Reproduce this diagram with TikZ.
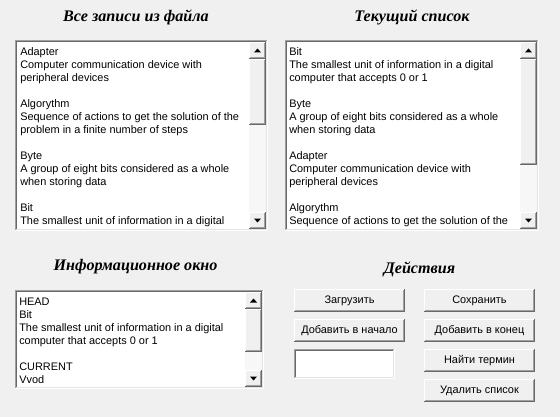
\documentclass[tikz,border=0pt]{standalone}
\usepackage{fontspec}
\setmainfont{Liberation Sans}
\newfontfamily\ttlfont{Liberation Serif}
\definecolor{bg}{HTML}{F0F0F0}
\definecolor{dkgray}{HTML}{696969}
\definecolor{mdgray}{HTML}{A0A0A0}
\definecolor{ltgray}{HTML}{E3E3E3}
\definecolor{trough}{HTML}{F7F7F7}
\newcommand\uisize{\fontsize{8.2}{10}\selectfont}
\newcommand\ttlsize{\fontsize{12.1}{14}\selectfont}
\tikzset{
  uitext/.style={anchor=mid west, inner sep=0pt, font=\uisize, text=black},
  wintitle/.style={inner sep=0pt, font=\ttlfont\bfseries\itshape\ttlsize},
  btntext/.style={inner sep=0pt, font=\uisize},
  px/.style={line width=0.75pt},
}
% raised (button-like) rectangle
\newcommand\raisedrect[4]{%
  \fill[bg] (#1,#2) rectangle (#3,#4);
  \draw[px,white] (#1+0.5,#4-1) |- (#3-1,#2+0.5);
  \draw[px,dkgray] (#1,#4-0.5) -| (#3-0.5,#2);
  \draw[px,mdgray] (#1+1,#4-1.5) -| (#3-1.5,#2+1);
}
% sunken (edit-like) rectangle
\newcommand\sunkenrect[4]{%
  \fill[white] (#1,#2) rectangle (#3,#4);
  \draw[px,mdgray] (#1+0.5,#4-1) |- (#3-1,#2+0.5);
  \draw[px,dkgray] (#1+1.5,#4-2) |- (#3-2,#2+1.5);
  \draw[px,white] (#1,#4-0.5) -| (#3-0.5,#2);
  \draw[px,ltgray] (#1+1,#4-1.5) -| (#3-1.5,#2+1);
}
% vertical scrollbar: x1 y1 x2 y2 thumbbottom
\newcommand\vscroll[5]{%
  \fill[trough] (#1,#2) rectangle (#3,#4);
  \raisedrect{#1}{#2}{#3}{#2+17}
  \raisedrect{#1}{#2+17}{#3}{#5}
  \raisedrect{#1}{#4-17}{#3}{#4}
  \fill[black] ({(#1+#3)/2-3.5},#2+10.5) -- ({(#1+#3)/2+3.5},#2+10.5) -- ({(#1+#3)/2},#2+6.5) -- cycle;
  \fill[black] ({(#1+#3)/2-3.5},#4-10.5) -- ({(#1+#3)/2+3.5},#4-10.5) -- ({(#1+#3)/2},#4-6.5) -- cycle;
}
\begin{document}
\begin{tikzpicture}[x=0.75pt,y=-0.75pt]
\fill[bg] (0,0) rectangle (560,417);
\useasboundingbox (0,0) rectangle (560,417);

% titles
\node[wintitle] (t1) at (136,17) {Все записи из файла};
\node[wintitle] (t2) at (412,17) {Текущий список};
\node[wintitle] (t3) at (135.5,267) {Информационное окно};
\node[wintitle] (t4) at (419.5,269) {Действия};

% list box 1
\sunkenrect{15}{40}{268}{231}
\vscroll{249}{42}{266}{229}{125}
\node[uitext] (a1) at (20,52) {Adapter};
\node[uitext] (a2) at (20,65) {Computer communication device with};
\node[uitext] (a3) at (20,78) {peripheral devices};
\node[uitext] (a4) at (20,104) {Algorythm};
\node[uitext] (a5) at (20,117) {Sequence of actions to get the solution of the};
\node[uitext] (a6) at (20,130) {problem in a finite number of steps};
\node[uitext] (a7) at (20,156) {Byte};
\node[uitext] (a8) at (20,169) {A group of eight bits considered as a whole};
\node[uitext] (a9) at (20,182) {when storing data};
\node[uitext] (a10) at (20,208) {Bit};
\node[uitext] (a11) at (20,221) {The smallest unit of information in a digital};

% list box 2
\sunkenrect{285}{40}{539}{231}
\vscroll{520}{42}{537}{229}{165}
\node[uitext] (b1) at (289,52) {Bit};
\node[uitext] (b2) at (289,65) {The smallest unit of information in a digital};
\node[uitext] (b3) at (289,78) {computer that accepts 0 or 1};
\node[uitext] (b4) at (289,104) {Byte};
\node[uitext] (b5) at (289,117) {A group of eight bits considered as a whole};
\node[uitext] (b6) at (289,130) {when storing data};
\node[uitext] (b7) at (289,156) {Adapter};
\node[uitext] (b8) at (289,169) {Computer communication device with};
\node[uitext] (b9) at (289,182) {peripheral devices};
\node[uitext] (b10) at (289,208) {Algorythm};
\node[uitext] (b11) at (289,221) {Sequence of actions to get the solution of the};

% info box
\sunkenrect{15}{290}{264}{389}
\vscroll{245}{292}{262}{387}{352}
\node[uitext] (c1) at (19,302) {HEAD};
\node[uitext] (c2) at (19,315) {Bit};
\node[uitext] (c3) at (19,328) {The smallest unit of information in a digital};
\node[uitext] (c4) at (19,341) {computer that accepts 0 or 1};
\node[uitext] (c5) at (19,367) {CURRENT};
\node[uitext] (c6) at (19,380) {Vvod};

% buttons
\raisedrect{294}{289}{405}{312}
\node[btntext] (bload) at (349.5,300.5) {Загрузить};
\raisedrect{424}{289}{535}{312}
\node[btntext] (bsave) at (479.5,300.5) {Сохранить};
\raisedrect{294}{319}{405}{342}
\node[btntext] (bfront) at (349.5,330.5) {Добавить в начало};
\raisedrect{424}{319}{535}{342}
\node[btntext] (bback) at (479.5,330.5) {Добавить в конец};
\raisedrect{424}{349}{535}{372}
\node[btntext] (bfind) at (479.5,360.5) {Найти термин};
\raisedrect{424}{379}{535}{402}
\node[btntext] (bdel) at (479.5,390.5) {Удалить список};

% edit box
\sunkenrect{294}{349}{395}{379}
\coordinate (edit) at (344.5,364);
\end{tikzpicture}
\end{document}
